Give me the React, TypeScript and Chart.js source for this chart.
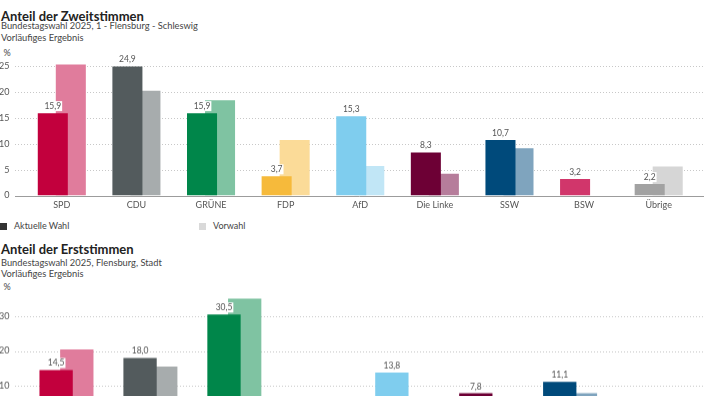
import React, { useEffect, useRef } from 'react';
import { Chart, registerables } from 'chart.js';

Chart.register(...registerables);

// ---------- Data ----------
const zweitKategorien = ['SPD', 'CDU', 'GRÜNE', 'FDP', 'AfD', 'Die Linke', 'SSW', 'BSW', 'Übrige'];
const zweitAktuell = [15.9, 24.9, 15.9, 3.7, 15.3, 8.3, 10.7, 3.2, 2.2];
const zweitVorwahl = [25.3, 20.2, 18.4, 10.7, 5.7, 4.2, 9.1, null, 5.6];

const erstKategorien = ['SPD', 'CDU', 'GRÜNE', 'FDP', 'AfD', 'Die Linke', 'SSW', 'Übrige'];
const erstAktuell = [14.5, 18.0, 30.5, 3.1, 13.8, 7.8, 11.1, 1.2];
const erstVorwahl = [20.4, 15.5, 35.1, 6.0, 5.5, 4.0, 7.8, 3.0];

const zweitTicks = [0, 5, 10, 15, 20, 25];
const erstTicks = [0, 10, 20, 30];

// ---------- Colours per party ----------
const farbeAktuell: Record<string, string> = {
  SPD: '#C2003D',
  CDU: '#535B5D',
  'GRÜNE': '#00864A',
  FDP: '#F6BA3B',
  AfD: '#7FCDEE',
  'Die Linke': '#6D0035',
  SSW: '#004A7B',
  BSW: '#D1366B',
  'Übrige': '#A2A2A2',
};
const farbeVorwahl: Record<string, string> = {
  SPD: '#E07C9C',
  CDU: '#A7ACAD',
  'GRÜNE': '#7FC3A2',
  FDP: '#FBDB98',
  AfD: '#C1E6F6',
  'Die Linke': '#B67D9B',
  SSW: '#7FA4BE',
  BSW: '#E89AB5',
  'Übrige': '#D6D6D6',
};

const FONT = 'Lato, "Noto Sans", sans-serif';

const fmt = (v: number) => v.toFixed(1).replace('.', ',');

type Props = {
  labels: string[];
  aktuell: (number | null)[];
  vorwahl: (number | null)[];
  ticks: number[];
  yMax: number;
  catPct: number;
  barPct: number;
  top: number;
  height: number;
  padTop: number;
};

function BarChart({ labels, aktuell, vorwahl, ticks, yMax, catPct, barPct, top, height, padTop }: Props) {
  const ref = useRef<HTMLCanvasElement | null>(null);

  useEffect(() => {
    if (!ref.current) return;
    const gridPlugin = {
      id: 'fullGrid',
      beforeDatasetsDraw(chart: any) {
        const y = chart.scales.y;
        const ctx = chart.ctx;
        ctx.save();
        ctx.lineWidth = 1;
        ctx.setLineDash([1, 2]);
        ctx.strokeStyle = '#c8c8c8';
        for (const t of ticks) {
          if (t === 0) continue;
          const py = Math.round(y.getPixelForValue(t)) + 0.5;
          ctx.beginPath();
          ctx.moveTo(15, py);
          ctx.lineTo(chart.width, py);
          ctx.stroke();
        }
        ctx.restore();
      },
      afterDatasetsDraw(chart: any) {
        const y = chart.scales.y;
        const ctx = chart.ctx;
        ctx.save();
        // baseline
        const py = Math.round(y.getPixelForValue(0)) + 0.5;
        ctx.lineWidth = 1;
        ctx.setLineDash([]);
        ctx.strokeStyle = '#9c9c9c';
        ctx.beginPath();
        ctx.moveTo(15, py);
        ctx.lineTo(chart.width, py);
        ctx.stroke();
        // value labels on current bars
        const meta = chart.getDatasetMeta(0);
        ctx.font = `8.5px ${FONT}`;
        ctx.textAlign = 'center';
        ctx.textBaseline = 'alphabetic';
        meta.data.forEach((bar: any, i: number) => {
          const v = aktuell[i];
          if (v == null) return;
          const txt = fmt(v);
          const w = ctx.measureText(txt).width;
          const by = bar.y - 4;
          ctx.fillStyle = '#ffffff';
          ctx.fillRect(bar.x - w / 2 - 1, by - 8, w + 2, 10);
          ctx.fillStyle = '#555555';
          ctx.fillText(txt, bar.x, by);
        });
        ctx.restore();
      },
    };

    const chart = new Chart(ref.current, {
      type: 'bar',
      data: {
        labels,
        datasets: [
          {
            label: 'Aktuelle Wahl',
            data: aktuell,
            backgroundColor: labels.map((l) => farbeAktuell[l]),
            borderWidth: 0,
            categoryPercentage: catPct,
            barPercentage: barPct,
          },
          {
            label: 'Vorwahl',
            data: vorwahl,
            backgroundColor: labels.map((l) => farbeVorwahl[l]),
            borderWidth: 0,
            categoryPercentage: catPct,
            barPercentage: barPct,
          },
        ],
      },
      options: {
        responsive: false,
        animation: false,
        devicePixelRatio: 1,
        layout: { padding: { top: padTop, right: 8, left: 0, bottom: 0 } },
        plugins: { legend: { display: false }, tooltip: { enabled: false } },
        scales: {
          x: {
            grid: { display: false, drawTicks: false },
            border: { display: false },
            ticks: {
              color: '#555',
              font: { family: FONT, size: 9 },
              padding: 4,
              maxRotation: 0,
              autoSkip: false,
            },
            afterFit: (s: any) => {
              s.height = 24.5;
            },
          },
          y: {
            min: 0,
            max: yMax,
            grid: { display: false, drawTicks: false },
            border: { display: false },
            ticks: {
              stepSize: ticks[1] - ticks[0],
              includeBounds: false,
              color: '#555',
              font: { family: FONT, size: 9 },
              padding: 15,
            },
            afterFit: (s: any) => {
              s.width = 24.5;
              s.paddingTop = 4;
              s.paddingBottom = 4;
            },
          },
        },
      },
      plugins: [gridPlugin],
    } as any);
    return () => chart.destroy();
  }, []);

  return (
    <canvas
      ref={ref}
      width={704}
      height={height}
      style={{ position: 'absolute', left: 0, top, width: 704, height, display: 'block' }}
    />
  );
}

const txt = (top: number, left: number, size: number, bold: boolean, color: string, lh: number): React.CSSProperties => ({
  position: 'absolute',
  top,
  left,
  fontSize: size,
  fontWeight: bold ? 700 : 400,
  color,
  lineHeight: `${lh}px`,
  whiteSpace: 'nowrap',
  fontFamily: FONT,
});

export default function App() {
  return (
    <div
      style={{
        position: 'absolute',
        left: 0,
        top: 0,
        width: 704,
        height: 396,
        overflow: 'hidden',
        background: '#fff',
        fontFamily: FONT,
      }}
    >
      <div style={txt(8, 1, 13, true, '#222', 16)}>Anteil der Zweitstimmen</div>
      <div style={txt(20, 1, 9.3, false, '#444', 11.5)}>Bundestagswahl 2025, 1 - Flensburg - Schleswig</div>
      <div style={txt(32, 1, 9.3, false, '#444', 11.5)}>Vorläufiges Ergebnis</div>
      <div style={txt(46.5, 3.5, 9, false, '#444', 11.5)}>%</div>

      <BarChart
        labels={zweitKategorien}
        aktuell={zweitAktuell}
        vorwahl={zweitVorwahl}
        ticks={zweitTicks}
        yMax={26}
        catPct={0.483}
        barPct={1.667}
        top={50}
        height={170}
        padTop={10.8}
      />

      <div style={{ position: 'absolute', left: 0, top: 223.3, width: 6.7, height: 6.7, background: '#333' }} />
      <div style={txt(220, 14, 9, false, '#444', 11.5)}>Aktuelle Wahl</div>
      <div style={{ position: 'absolute', left: 199, top: 223.3, width: 6.7, height: 6.7, background: '#d9d9d9' }} />
      <div style={txt(220, 213, 9, false, '#444', 11.5)}>Vorwahl</div>

      <div style={txt(241.3, 1, 13, true, '#222', 16)}>Anteil der Erststimmen</div>
      <div style={txt(256.5, 1, 9.3, false, '#444', 11.5)}>Bundestagswahl 2025, Flensburg, Stadt</div>
      <div style={txt(267.5, 1, 9.3, false, '#444', 11.5)}>Vorläufiges Ergebnis</div>
      <div style={txt(280.5, 3.5, 9, false, '#444', 11.5)}>%</div>

      <BarChart
        labels={erstKategorien}
        aktuell={erstAktuell}
        vorwahl={erstVorwahl}
        ticks={erstTicks}
        yMax={37}
        catPct={0.493}
        barPct={1.61}
        top={280}
        height={164.5}
        padTop={11.85}
      />
    </div>
  );
}
